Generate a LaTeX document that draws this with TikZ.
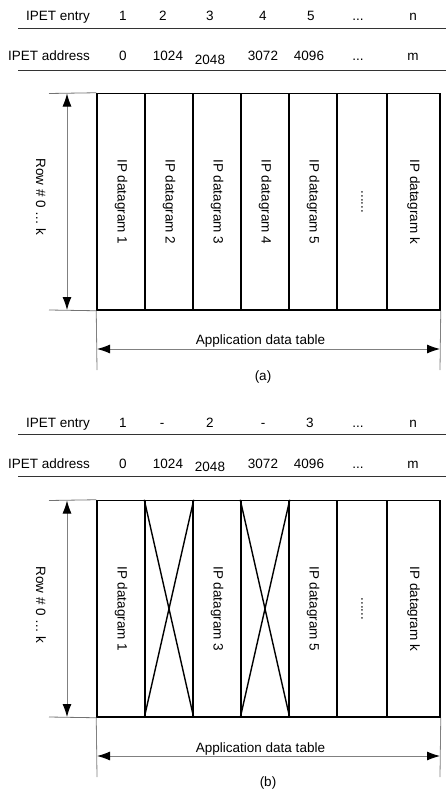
\documentclass[tikz,border=0pt]{standalone}
\usepackage{fontspec}
\setmainfont{Liberation Sans}
\usetikzlibrary{arrows.meta}

\tikzset{
  txt/.style={inner sep=0pt, font=\fontsize{13.5}{16}\selectfont},
  dgram/.style={txt, rotate=-90},
  col/.style={draw, line width=1.5pt, minimum height=216.5pt, inner sep=0pt},
  rule/.style={line width=0.9pt, black!80},
  ext/.style={line width=0.8pt, black!55},
  dim/.style={line width=0.9pt, gray,
    {Latex[length=13pt,width=9pt,color=black]}-{Latex[length=13pt,width=9pt,color=black]}},
  cross/.style={line width=1.4pt},
}

\begin{document}
\begin{tikzpicture}[x=1pt, y=-1pt]
 \useasboundingbox (0,0) rectangle (446,790);

 % ---- (a) header
 \node[txt, anchor=base east] (ea) at (90,20) {IPET entry};
 \node[txt, anchor=base] (ea1) at (123,20) {1};
 \node[txt, anchor=base] (ea2) at (163,20) {2};
 \node[txt, anchor=base] (ea3) at (210,20) {3};
 \node[txt, anchor=base] (ea4) at (263,20) {4};
 \node[txt, anchor=base] (ea5) at (311,20) {5};
 \node[txt, anchor=base] (ea6) at (358,20) {...};
 \node[txt, anchor=base] (ea7) at (413,20) {n};
 \coordinate (lea1) at (18,28);
 \coordinate (lea2) at (446,28);
 \draw[rule] (lea1) -- (lea2);

 \node[txt, anchor=base east] (da) at (90,60) {IPET address};
 \node[txt, anchor=base] (da1) at (123,60) {0};
 \node[txt, anchor=base] (da2) at (168,60) {1024};
 \node[txt, anchor=base] (da3) at (210,64) {2048};
 \node[txt, anchor=base] (da4) at (263,60) {3072};
 \node[txt, anchor=base] (da5) at (309,60) {4096};
 \node[txt, anchor=base] (da6) at (358,60) {...};
 \node[txt, anchor=base] (da7) at (413,60) {m};
 \coordinate (lda1) at (18,70);
 \coordinate (lda2) at (446,70);
 \draw[rule] (lda1) -- (lda2);

 % ---- (a) table
 \node[col, minimum width=48pt] (a1) at (121,201.75) {};
 \node[col, minimum width=48pt] (a2) at (169,201.75) {};
 \node[col, minimum width=48pt] (a3) at (217,201.75) {};
 \node[col, minimum width=48pt] (a4) at (265,201.75) {};
 \node[col, minimum width=48pt] (a5) at (313,201.75) {};
 \node[col, minimum width=50pt] (a6) at (362,201.75) {};
 \node[col, minimum width=53pt] (a7) at (413.5,201.75) {};
 \node[dgram] (ga1) at (a1) {IP datagram 1};
 \node[dgram] (ga2) at (a2) {IP datagram 2};
 \node[dgram] (ga3) at (a3) {IP datagram 3};
 \node[dgram] (ga4) at (a4) {IP datagram 4};
 \node[dgram] (ga5) at (a5) {IP datagram 5};
 \node[dgram] (ga6) at (a6) {......};
 \node[dgram] (ga7) at (a7) {IP datagram k};

 \coordinate (atl) at (49,93.5);
 \coordinate (abl) at (49,310);
 \draw[ext] (atl) -- (a1.north west);
 \draw[ext] (abl) -- (a1.south west);
 \coordinate (art) at (67,93.5);
 \coordinate (arb) at (67,310);
 \draw[dim] (art) -- (arb);
 \node[dgram] (rowa) at (41,197) {Row \# 0 … k};

 \coordinate (axl) at (97,370);
 \coordinate (axr) at (440,370);
 \draw[ext, gray] (a1.south west) -- (axl);
 \draw[ext, gray] (a7.south east) -- (axr);
 \coordinate (awl) at (97,349);
 \coordinate (awr) at (440,349);
 \draw[dim] (awl) -- (awr);
 \node[txt, anchor=base] (appa) at (260.5,344) {Application data table};
 \node[txt] (capa) at (263,377) {(a)};

 % ---- (b) header
 \node[txt, anchor=base east] (eb) at (90,427) {IPET entry};
 \node[txt, anchor=base] (eb1) at (123,427) {1};
 \node[txt, anchor=base] (eb2) at (162,427) {-};
 \node[txt, anchor=base] (eb3) at (210,427) {2};
 \node[txt, anchor=base] (eb4) at (263,427) {-};
 \node[txt, anchor=base] (eb5) at (310,427) {3};
 \node[txt, anchor=base] (eb6) at (358,427) {...};
 \node[txt, anchor=base] (eb7) at (413,427) {n};
 \coordinate (leb1) at (18,434);
 \coordinate (leb2) at (446,434);
 \draw[rule] (leb1) -- (leb2);

 \node[txt, anchor=base east] (db) at (90,468) {IPET address};
 \node[txt, anchor=base] (db1) at (123,468) {0};
 \node[txt, anchor=base] (db2) at (168,468) {1024};
 \node[txt, anchor=base] (db3) at (210,471) {2048};
 \node[txt, anchor=base] (db4) at (263,468) {3072};
 \node[txt, anchor=base] (db5) at (309,468) {4096};
 \node[txt, anchor=base] (db6) at (358,468) {...};
 \node[txt, anchor=base] (db7) at (413,468) {m};
 \coordinate (ldb1) at (18,476);
 \coordinate (ldb2) at (446,476);
 \draw[rule] (ldb1) -- (ldb2);

 % ---- (b) table
 \node[col, minimum width=48pt] (b1) at (121,608.75) {};
 \node[col, minimum width=48pt] (b2) at (169,608.75) {};
 \node[col, minimum width=48pt] (b3) at (217,608.75) {};
 \node[col, minimum width=48pt] (b4) at (265,608.75) {};
 \node[col, minimum width=48pt] (b5) at (313,608.75) {};
 \node[col, minimum width=50pt] (b6) at (362,608.75) {};
 \node[col, minimum width=53pt] (b7) at (413.5,608.75) {};
 \node[dgram] (gb1) at (b1) {IP datagram 1};
 \node[dgram] (gb3) at (b3) {IP datagram 3};
 \node[dgram] (gb5) at (b5) {IP datagram 5};
 \node[dgram] (gb6) at (b6) {......};
 \node[dgram] (gb7) at (b7) {IP datagram k};
 \draw[cross] (b2.north west) -- (b2.south east);
 \draw[cross] (b2.north east) -- (b2.south west);
 \draw[cross] (b4.north west) -- (b4.south east);
 \draw[cross] (b4.north east) -- (b4.south west);

 \coordinate (btl) at (49,500.5);
 \coordinate (bbl) at (49,717);
 \draw[ext] (btl) -- (b1.north west);
 \draw[ext] (bbl) -- (b1.south west);
 \coordinate (brt) at (67,500.5);
 \coordinate (brb) at (67,717);
 \draw[dim] (brt) -- (brb);
 \node[dgram] (rowb) at (41,605) {Row \# 0 … k};

 \coordinate (bxl) at (97,777);
 \coordinate (bxr) at (440,777);
 \draw[ext, gray] (b1.south west) -- (bxl);
 \draw[ext, gray] (b7.south east) -- (bxr);
 \coordinate (bwl) at (97,756);
 \coordinate (bwr) at (440,756);
 \draw[dim] (bwl) -- (bwr);
 \node[txt, anchor=base] (appb) at (260.5,752) {Application data table};
 \node[txt] (capb) at (268,783) {(b)};
\end{tikzpicture}
\end{document}
